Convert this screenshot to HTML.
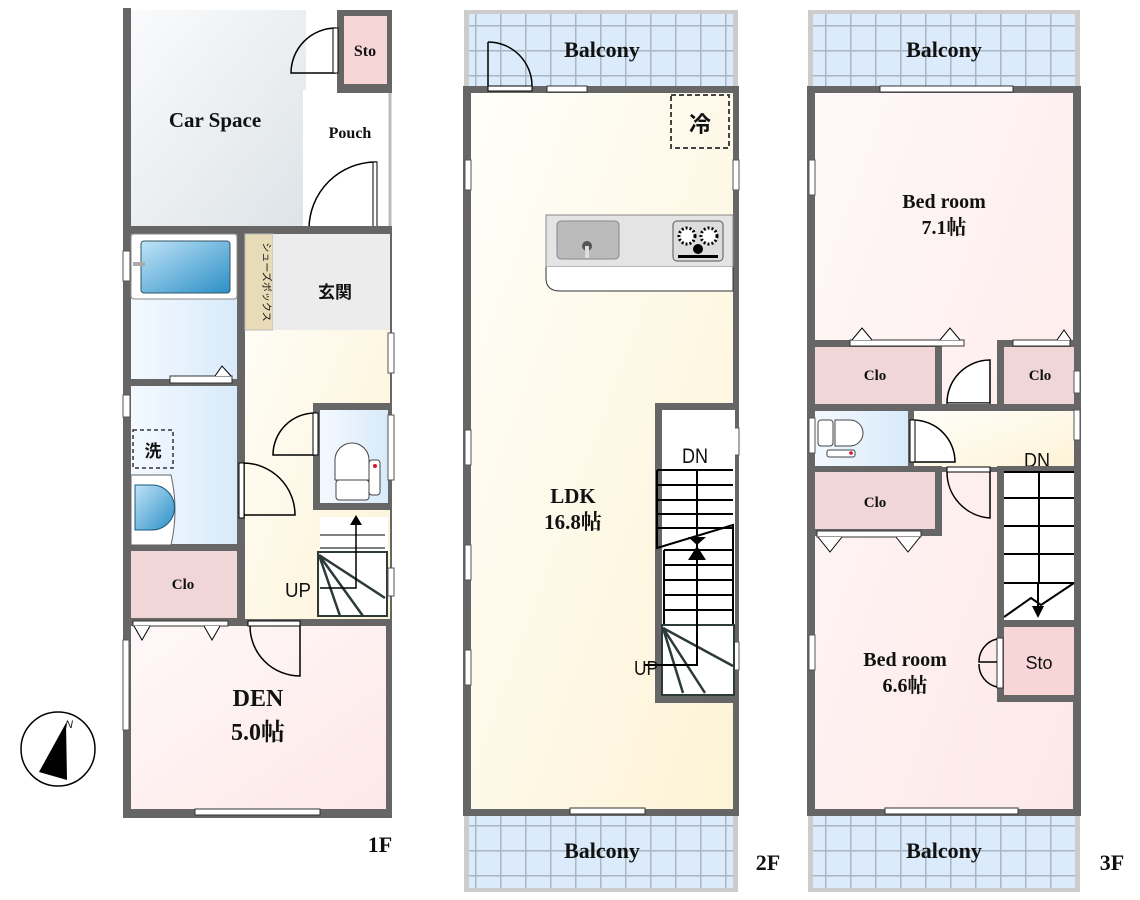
<!DOCTYPE html>
<html><head><meta charset="utf-8"><style>
html,body{margin:0;padding:0;background:#fff}
svg{display:block}
text{font-family:"Liberation Serif","Noto Serif CJK SC",serif;font-weight:bold;fill:#111}
.s{font-family:"Liberation Sans","Noto Sans CJK JP",sans-serif;font-weight:normal}
</style></head><body>
<svg width="1140" height="900" viewBox="0 0 1140 900" xmlns="http://www.w3.org/2000/svg">
<defs>
<pattern id="tile" x="0" y="0" width="25" height="25" patternUnits="userSpaceOnUse">
<rect width="25" height="25" fill="#dbebfb"/><path d="M0 0H25M0 0V25" stroke="#aab6c2" stroke-width="3"/>
</pattern>
<linearGradient id="car" x1="0" y1="0" x2="1" y2="1"><stop offset="0" stop-color="#fafbfc"/><stop offset="1" stop-color="#dde3e7"/></linearGradient>
<linearGradient id="blue" x1="0" y1="0" x2="1" y2="0"><stop offset="0" stop-color="#f4f9ff"/><stop offset="1" stop-color="#d8eafa"/></linearGradient>
<linearGradient id="ylw" x1="0" y1="0" x2="1" y2="1"><stop offset="0" stop-color="#fffefa"/><stop offset="1" stop-color="#fdf3d6"/></linearGradient>
<linearGradient id="pink" x1="0" y1="0" x2="1" y2="1"><stop offset="0" stop-color="#fff8f8"/><stop offset="1" stop-color="#fde8e8"/></linearGradient>
<linearGradient id="tub" x1="0" y1="0" x2="1" y2="1"><stop offset="0" stop-color="#bfe3f7"/><stop offset="1" stop-color="#2c8fc6"/></linearGradient>
</defs>

<!-- ========== 1F ========== -->
<rect x="126" y="10" width="180" height="220" fill="url(#car)"/>
<rect x="123" y="8" width="8" height="222" fill="#666"/>
<rect x="303" y="90" width="87" height="140" fill="#fff"/>
<line x1="390" y1="90" x2="390" y2="230" stroke="#bbb" stroke-width="3"/>
<rect x="337" y="10" width="55" height="83" fill="#666"/>
<rect x="344" y="16" width="43" height="68" fill="#f8d6d8"/>
<text x="365" y="56" font-size="16" text-anchor="middle">Sto</text>
<path d="M336 28 A45 45 0 0 0 291 73 H336" fill="none" stroke="#000" stroke-width="1.5"/>
<rect x="333" y="28" width="5" height="45" fill="#fff" stroke="#000"/>
<text x="215" y="127" font-size="21" text-anchor="middle">Car Space</text>
<text x="350" y="138" font-size="16" text-anchor="middle">Pouch</text>
<path d="M376 162 A67 67 0 0 0 309 229 H376 Z" fill="#fff" stroke="#000" stroke-width="1.5"/>
<rect x="373" y="162" width="4" height="67" fill="#fff" stroke="#000"/>

<rect x="123" y="226" width="269" height="592" fill="#666"/>
<!-- bath -->
<rect x="131" y="234" width="106" height="145" fill="url(#blue)"/>
<rect x="131" y="234" width="106" height="65" rx="3" fill="#fff" stroke="#888"/>
<rect x="141" y="241" width="89" height="52" rx="3" fill="url(#tub)" stroke="#356"/>
<rect x="133" y="262" width="12" height="4" fill="#aaa"/>
<rect x="123" y="251" width="7" height="30" fill="#fff" stroke="#555"/>
<!-- wash -->
<rect x="131" y="386" width="106" height="158" fill="url(#blue)"/>
<rect x="170" y="376" width="62" height="7" fill="#fff" stroke="#333"/>
<path d="M215 376 l7 -10 l9 10" fill="#fff" stroke="#000"/>
<rect x="123" y="395" width="7" height="22" fill="#fff" stroke="#555"/>
<rect x="133" y="430" width="40" height="38" fill="none" stroke="#333" stroke-dasharray="4,3" stroke-width="1.5"/>
<text x="153" y="457" font-size="17" text-anchor="middle" class="s" style="font-weight:bold">洗</text>
<path d="M131 475 h40 q8 35 0 70 h-40 z" fill="#fff" stroke="#666"/>
<path d="M135 485 h17 a22 22 0 0 1 0 45 h-17 z" fill="url(#tub)" stroke="#1a5a80"/>
<!-- clo -->
<rect x="131" y="551" width="106" height="67" fill="#f0d6d7"/>
<text x="183" y="589" font-size="15" text-anchor="middle">Clo</text>
<!-- shoes / genkan -->
<rect x="245" y="234" width="145" height="385" fill="url(#ylw)"/>
<rect x="245" y="234" width="28" height="96" fill="#e8dcb8" stroke="#bbb"/>
<text transform="translate(263,282) rotate(90)" font-size="10" text-anchor="middle" class="s">シューズボックス</text>
<rect x="273" y="234" width="117" height="96" fill="#ececec"/>
<text x="335" y="298" font-size="17" text-anchor="middle" class="s" style="font-weight:bold">玄関</text>
<rect x="388" y="333" width="6" height="40" fill="#fff" stroke="#555"/>
<!-- toilet -->
<rect x="313" y="403" width="79" height="107" fill="#666"/>
<rect x="320" y="410" width="68" height="93" fill="url(#blue)"/>
<path d="M335 480 v-20 a17 17 0 0 1 34 0 v20 z" fill="#fff" stroke="#444"/>
<rect x="336" y="480" width="33" height="20" rx="3" fill="#fff" stroke="#444"/>
<rect x="369" y="460" width="11" height="35" rx="3" fill="#fff" stroke="#444"/>
<circle cx="375" cy="466" r="2" fill="#d13"/>
<rect x="388" y="415" width="6" height="65" fill="#fff" stroke="#555"/>
<path d="M315 413 A42 42 0 0 0 273 455 H315" fill="none" stroke="#000" stroke-width="1.5"/>
<rect x="313" y="413" width="5" height="42" fill="#fff" stroke="#000"/>
<path d="M243 463 A52 52 0 0 1 295 515 H243" fill="none" stroke="#000" stroke-width="1.5"/>
<rect x="239" y="463" width="5" height="55" fill="#fff" stroke="#000"/>
<!-- stairs 1F -->
<rect x="320" y="517" width="68" height="100" fill="#fff"/>
<path d="M320 535 H385 M320 548 H385" stroke="#555" stroke-width="1.5"/>
<rect x="318" y="552" width="69" height="64" fill="none" stroke="#2c3a3a" stroke-width="2"/>
<path d="M319 555 L385 598 M319 555 L363 616 M319 555 L340 616" stroke="#2c3a3a" stroke-width="2.5"/>
<path d="M320 588 H356 V523" stroke="#000" stroke-width="1.5" fill="none"/>
<path d="M350 525 l6 -10 l6 10 z" fill="#000"/>
<rect x="388" y="568" width="6" height="28" fill="#fff" stroke="#555"/>
<text x="298" y="597" font-size="20" text-anchor="middle" class="s" textLength="26" lengthAdjust="spacingAndGlyphs">UP</text>
<!-- DEN -->
<rect x="131" y="626" width="255" height="183" fill="url(#pink)"/>
<rect x="133" y="621" width="95" height="5" fill="#fff" stroke="#333"/>
<path d="M134 626 l8 14 l8 -14 M204 626 l8 14 l8 -14" fill="#fff" stroke="#000"/>
<path d="M250 626 A50 50 0 0 0 300 676 V626" fill="none" stroke="#000" stroke-width="1.5"/>
<rect x="248" y="621" width="52" height="5" fill="#fff" stroke="#000"/>
<rect x="123" y="640" width="6" height="90" fill="#fff" stroke="#555"/>
<rect x="195" y="809" width="125" height="6" fill="#fff" stroke="#333"/>
<text x="258" y="706" font-size="24" text-anchor="middle">DEN</text>
<text x="258" y="740" font-size="24" text-anchor="middle">5.0帖</text>
<text x="380" y="852" font-size="22" text-anchor="middle">1F</text>
<!-- compass -->
<circle cx="58" cy="749" r="37" fill="#fff" stroke="#000" stroke-width="1.5"/>
<path d="M66 723 L67 780 L39 772 Z" fill="#000"/>
<text x="65" y="728" font-size="11" font-style="italic" class="s">N</text>

<!-- ========== 2F ========== -->
<rect x="464" y="10" width="274" height="80" fill="#ccc"/>
<rect x="469" y="14" width="264" height="74" fill="url(#tile)"/>
<rect x="464" y="812" width="274" height="80" fill="#ccc"/>
<rect x="469" y="816" width="264" height="72" fill="url(#tile)"/>
<text x="602" y="57" font-size="22" text-anchor="middle">Balcony</text>
<text x="602" y="858" font-size="22" text-anchor="middle">Balcony</text>
<rect x="463" y="86" width="276" height="730" fill="#666"/>
<rect x="471" y="93" width="262" height="716" fill="url(#ylw)"/>
<rect x="547" y="86" width="40" height="6" fill="#fff" stroke="#333"/>
<path d="M488 42 A44 44 0 0 1 532 86 M488 86 V42" fill="none" stroke="#000" stroke-width="1.5"/>
<rect x="488" y="86" width="44" height="5" fill="#fff" stroke="#000"/>
<rect x="465" y="160" width="6" height="30" fill="#fff" stroke="#555"/>
<rect x="465" y="430" width="6" height="35" fill="#fff" stroke="#555"/>
<rect x="465" y="545" width="6" height="35" fill="#fff" stroke="#555"/>
<rect x="465" y="650" width="6" height="35" fill="#fff" stroke="#555"/>
<rect x="733" y="160" width="6" height="30" fill="#fff" stroke="#555"/>
<rect x="733" y="428" width="6" height="27" fill="#fff" stroke="#555"/>
<rect x="733" y="642" width="6" height="28" fill="#fff" stroke="#555"/>
<rect x="570" y="808" width="75" height="6" fill="#fff" stroke="#333"/>
<rect x="671" y="95" width="58" height="53" fill="none" stroke="#444" stroke-width="2" stroke-dasharray="5,3"/>
<text x="700" y="132" font-size="22" text-anchor="middle" class="s" style="font-weight:bold">冷</text>
<rect x="546" y="215" width="187" height="52" fill="#e4e4e4" stroke="#888"/>
<path d="M546 267 V278 Q546 291 560 291 H733 V267" fill="#fff" stroke="#333"/>
<rect x="557" y="221" width="62" height="38" rx="4" fill="#bbb" stroke="#888"/>
<circle cx="587" cy="246" r="5" fill="#555"/><rect x="585" y="246" width="4" height="12" fill="#ddd"/>
<rect x="673" y="221" width="50" height="40" rx="4" fill="#ddd" stroke="#555"/>
<circle cx="687" cy="236" r="8" fill="#fff" stroke="#000" stroke-width="3" stroke-dasharray="2,2"/>
<circle cx="709" cy="236" r="8" fill="#fff" stroke="#000" stroke-width="3" stroke-dasharray="2,2"/>
<circle cx="698" cy="249" r="5" fill="#000"/>
<rect x="678" y="255" width="40" height="3" fill="#000"/>
<!-- stairs 2F -->
<rect x="655" y="403" width="80" height="300" fill="#666"/>
<rect x="662" y="410" width="73" height="285" fill="#fff"/>
<path d="M657 470 H733 M657 485 H733 M657 500 H733 M657 514 H733 M657 528 H733 M664 550 H733 M664 565 H733 M664 580 H733 M664 595 H733 M664 610 H733" stroke="#000" stroke-width="2"/>
<path d="M657 470 V548 L733 525 V625 M664 550 V625" stroke="#000" stroke-width="2" fill="none"/>
<rect x="662" y="625" width="72" height="70" fill="#fff" stroke="#2c3a3a" stroke-width="2"/>
<path d="M663 628 L733 666 M663 628 L705 693 M663 628 L683 693" stroke="#2c3a3a" stroke-width="2.5"/>
<path d="M645 665 H697 V470" stroke="#000" stroke-width="2" fill="none"/>
<path d="M688 560 l9 -14 l9 14 z M688 537 l9 8 l9 -8 z" fill="#000"/>
<text x="695" y="463" font-size="21" text-anchor="middle" class="s" textLength="26" lengthAdjust="spacingAndGlyphs">DN</text>
<text x="646" y="675" font-size="20" text-anchor="middle" class="s" textLength="24" lengthAdjust="spacingAndGlyphs">UP</text>
<text x="573" y="503" font-size="21" text-anchor="middle">LDK</text>
<text x="573" y="529" font-size="21" text-anchor="middle">16.8帖</text>
<text x="768" y="870" font-size="22" text-anchor="middle">2F</text>

<!-- ========== 3F ========== -->
<rect x="808" y="10" width="272" height="80" fill="#ccc"/>
<rect x="813" y="14" width="262" height="74" fill="url(#tile)"/>
<rect x="808" y="812" width="272" height="80" fill="#ccc"/>
<rect x="813" y="816" width="262" height="72" fill="url(#tile)"/>
<text x="944" y="57" font-size="22" text-anchor="middle">Balcony</text>
<text x="944" y="858" font-size="22" text-anchor="middle">Balcony</text>
<rect x="807" y="86" width="274" height="730" fill="#666"/>
<rect x="815" y="93" width="258" height="716" fill="url(#pink)"/>
<rect x="880" y="86" width="133" height="6" fill="#fff" stroke="#333"/>
<rect x="885" y="808" width="133" height="6" fill="#fff" stroke="#333"/>
<rect x="809" y="160" width="6" height="35" fill="#fff" stroke="#555"/>
<rect x="809" y="635" width="6" height="35" fill="#fff" stroke="#555"/>
<text x="944" y="208" font-size="20" text-anchor="middle">Bed room</text>
<text x="944" y="234" font-size="20" text-anchor="middle">7.1帖</text>
<!-- clo row -->
<rect x="808" y="340" width="134" height="74" fill="#666"/>
<rect x="815" y="347" width="120" height="57" fill="#f0d6d7"/>
<rect x="850" y="340" width="114" height="6" fill="#fff" stroke="#333"/>
<path d="M852 340 l10 -12 l10 12 M940 340 l10 -12 l10 12" fill="#fff" stroke="#000"/>
<text x="875" y="380" font-size="15" text-anchor="middle">Clo</text>
<rect x="997" y="340" width="84" height="74" fill="#666"/>
<rect x="1004" y="347" width="70" height="57" fill="#f0d6d7"/>
<rect x="1013" y="340" width="57" height="6" fill="#fff" stroke="#333"/>
<path d="M1057 340 l7 -10 l7 10" fill="#fff" stroke="#000"/>
<rect x="1074" y="371" width="6" height="22" fill="#fff" stroke="#555"/>
<text x="1040" y="380" font-size="15" text-anchor="middle">Clo</text>
<path d="M990 360 A43 43 0 0 0 947 403 H990 Z" fill="#fff" stroke="#000" stroke-width="1.5"/>
<rect x="947" y="403" width="43" height="5" fill="#fff" stroke="#000"/>
<!-- toilet + hall -->
<rect x="808" y="404" width="273" height="68" fill="#666"/>
<rect x="815" y="411" width="93" height="56" fill="url(#blue)"/>
<rect x="914" y="411" width="160" height="56" fill="url(#ylw)"/>
<rect x="809" y="418" width="6" height="35" fill="#fff" stroke="#555"/>
<rect x="1074" y="410" width="6" height="30" fill="#fff" stroke="#555"/>
<path d="M835 420 h15 a13 13 0 0 1 0 26 h-15 z" fill="#fff" stroke="#444"/>
<rect x="818" y="420" width="15" height="26" rx="3" fill="#fff" stroke="#444"/>
<rect x="827" y="450" width="28" height="7" rx="2" fill="#fff" stroke="#444"/>
<circle cx="851" cy="453" r="1.8" fill="#d13"/>
<path d="M913 420 A42 42 0 0 1 955 462 H913" fill="#fff" stroke="#000" stroke-width="1.5"/>
<rect x="910" y="420" width="5" height="42" fill="#fff" stroke="#000"/>
<text x="1037" y="467" font-size="20" text-anchor="middle" class="s" textLength="26" lengthAdjust="spacingAndGlyphs">DN</text>
<!-- lower clo -->
<rect x="808" y="466" width="134" height="70" fill="#666"/>
<rect x="815" y="472" width="120" height="57" fill="#f0d6d7"/>
<rect x="817" y="531" width="104" height="6" fill="#fff" stroke="#333"/>
<path d="M818 537 l12 15 l12 -15 M896 537 l12 15 l12 -15" fill="#fff" stroke="#000"/>
<text x="875" y="507" font-size="15" text-anchor="middle">Clo</text>
<path d="M947 472 A46 46 0 0 0 990 518 V472" fill="none" stroke="#000" stroke-width="1.5"/>
<rect x="947" y="467" width="43" height="5" fill="#fff" stroke="#000"/>
<!-- stairs 3F -->
<rect x="997" y="466" width="84" height="160" fill="#666"/>
<rect x="1004" y="472" width="70" height="148" fill="#fff"/>
<path d="M1004 472 H1074 M1004 498 H1074 M1004 526 H1074 M1004 554 H1074 M1004 583 H1074 M1039 472 V583" stroke="#000" stroke-width="2"/>
<path d="M1004 617 L1031 598 L1041 605 L1074 583" stroke="#000" stroke-width="2" fill="none"/>
<path d="M1038 583 V612" stroke="#000" stroke-width="2"/>
<path d="M1032 606 l6 12 l6 -12 z" fill="#000"/>
<!-- sto -->
<rect x="997" y="620" width="84" height="82" fill="#666"/>
<rect x="1004" y="627" width="70" height="68" fill="#f8d6d8"/>
<text x="1039" y="669" font-size="18" text-anchor="middle" class="s">Sto</text>
<rect x="997" y="638" width="6" height="50" fill="#fff" stroke="#333"/>
<path d="M997 639 A23 23 0 0 0 979 662 H997 M997 687 A23 23 0 0 1 979 664" fill="none" stroke="#000" stroke-width="1.5"/>
<text x="905" y="666" font-size="20" text-anchor="middle">Bed room</text>
<text x="905" y="692" font-size="20" text-anchor="middle">6.6帖</text>
<text x="1112" y="870" font-size="22" text-anchor="middle">3F</text>
</svg>
</body></html>
